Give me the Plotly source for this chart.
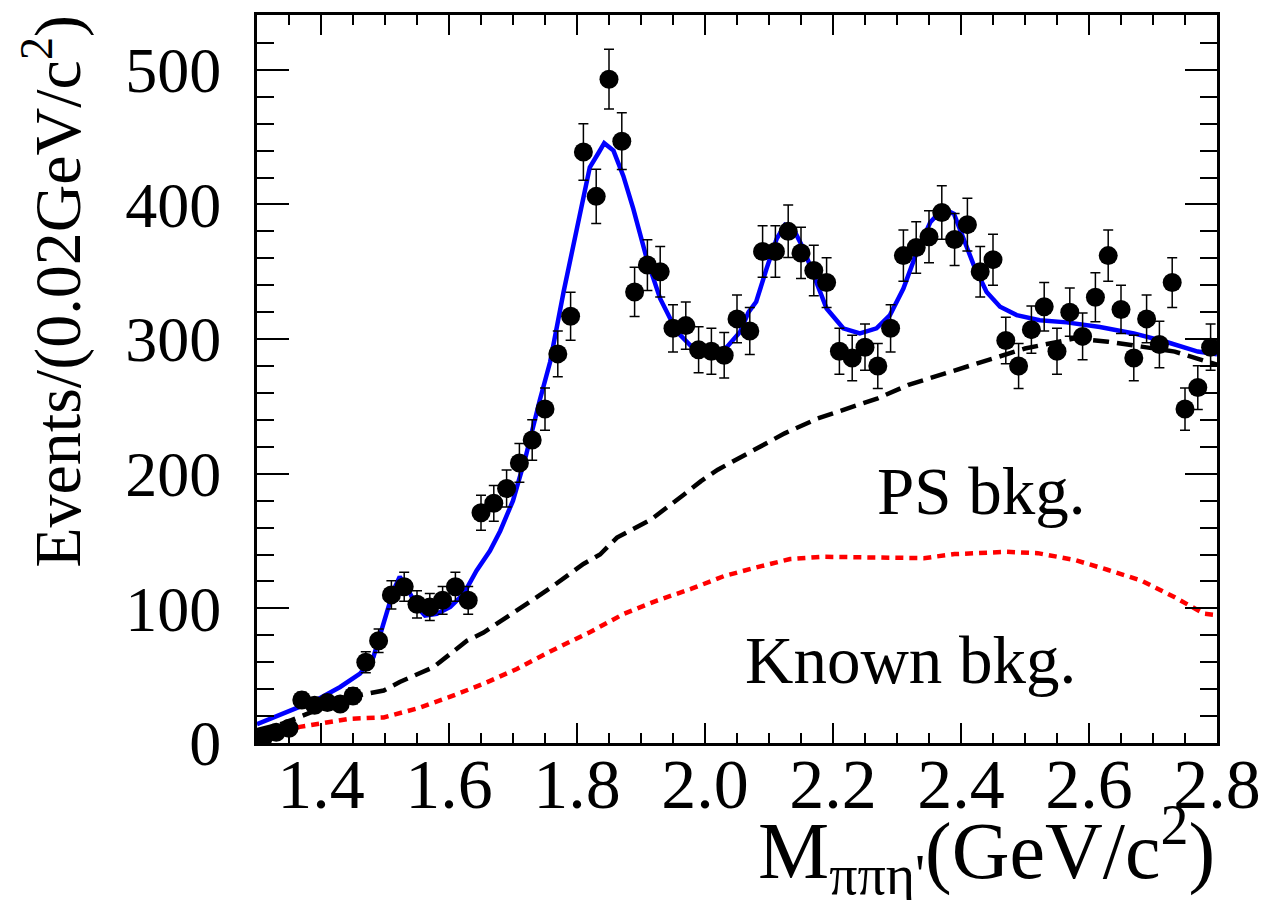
import numpy as np
import plotly.graph_objects as go

# ---------------- data ----------------
bin_centers = [1.31, 1.33, 1.35, 1.37, 1.39, 1.41, 1.43, 1.45, 1.47, 1.49,
               1.51, 1.53, 1.55, 1.57, 1.59, 1.61, 1.63, 1.65, 1.67, 1.69,
               1.71, 1.73, 1.75, 1.77, 1.79, 1.81, 1.83, 1.85, 1.87, 1.89,
               1.91, 1.93, 1.95, 1.97, 1.99, 2.01, 2.03, 2.05, 2.07, 2.09,
               2.11, 2.13, 2.15, 2.17, 2.19, 2.21, 2.23, 2.25, 2.27, 2.29,
               2.31, 2.33, 2.35, 2.37, 2.39, 2.41, 2.43, 2.45, 2.47, 2.49,
               2.51, 2.53, 2.55, 2.57, 2.59, 2.61, 2.63, 2.65, 2.67, 2.69,
               2.71, 2.73, 2.75, 2.77, 2.79]
counts = [4, 8, 11, 32, 28, 30, 29, 35, 60, 76,
          110, 116, 103, 101, 106, 116, 106, 171, 178, 189,
          208, 225, 248, 289, 317, 439, 406, 493, 447, 335,
          355, 350, 308, 310, 292, 291, 288, 315, 306, 365,
          365, 380, 364, 351, 342, 291, 286, 294, 280, 308,
          362, 368, 376, 394, 374, 385, 350, 359, 299, 280,
          307, 324, 291, 320, 302, 331, 362, 322, 286, 315,
          296, 342, 248, 264, 294]

fit_x = [1.30, 1.32, 1.35, 1.393, 1.43, 1.461, 1.482, 1.498, 1.513, 1.523,
         1.536, 1.55, 1.5625, 1.581, 1.602, 1.623, 1.643, 1.664, 1.68, 1.70,
         1.72, 1.742, 1.758, 1.779, 1.80, 1.82, 1.834, 1.8425, 1.857, 1.8725,
         1.888, 1.909, 1.93, 1.956, 1.982, 2.008, 2.034, 2.055, 2.068, 2.08,
         2.096, 2.112, 2.125, 2.138, 2.154, 2.17, 2.19, 2.216, 2.242, 2.268,
         2.289, 2.31, 2.331, 2.352, 2.372, 2.389, 2.404, 2.42, 2.44, 2.461,
         2.487, 2.523, 2.565, 2.617, 2.67, 2.72, 2.77, 2.80]
fit_y = [14, 18, 24, 32, 41.6, 51.5, 64, 88.5, 113, 123.5,
         114, 101, 94.7, 96, 101, 110.7, 128, 142.7, 157.5, 180,
         213, 255, 283, 335, 384, 427.5, 438.6, 445.5, 440, 421,
         396.7, 359.7, 330, 305.5, 293, 289.4, 294, 305.5, 320, 327.7,
         352, 374.5, 384.8, 382, 367, 347.4, 322.7, 308, 304.2, 308,
         317.8, 337.5, 364.6, 386.8, 397, 393, 374.5, 354.8, 335, 324,
         317.8, 314, 312.4, 309, 304.2, 298, 290.7, 288.7]

ps_x = [1.30, 1.341, 1.393, 1.445, 1.498, 1.523, 1.576, 1.60, 1.628, 1.654,
        1.706, 1.758, 1.81, 1.836, 1.8625, 1.9156, 1.9677, 1.9937, 2.02, 2.072,
        2.1245, 2.176, 2.228, 2.27, 2.318, 2.385, 2.448, 2.50, 2.578, 2.63,
        2.682, 2.734, 2.786, 2.80]
ps_y = [9.6, 14.6, 24.4, 34.2, 39, 45.3, 56.4, 65, 76, 82,
        98.4, 115, 133, 140, 152.6, 166, 184.7, 194.5, 203, 216.7,
        230, 241, 249, 256, 266, 276, 285.7, 293, 300.5, 298,
        294.4, 290.7, 283, 281]

known_x = [1.30, 1.367, 1.445, 1.498, 1.55, 1.60, 1.654, 1.706, 1.758, 1.82,
           1.873, 1.925, 1.978, 2.03, 2.08, 2.133, 2.185, 2.263, 2.342, 2.39,
           2.47, 2.52, 2.578, 2.63, 2.682, 2.734, 2.78, 2.80]
known_y = [3, 12, 18, 19, 25.6, 34, 44, 55, 68, 82.3,
           95.9, 105.8, 114.4, 124, 130.4, 136.6, 138.3, 137.8, 137.3, 140.3,
           142, 141, 135.9, 128.5, 120.6, 108.2, 96, 95]

x_ticks = [1.4, 1.6, 1.8, 2.0, 2.2, 2.4, 2.6, 2.8]
x_ticklabels = ["1.4", "1.6", "1.8", "2.0", "2.2", "2.4", "2.6", "2.8"]
y_ticks = [0, 100, 200, 300, 400, 500]
y_ticklabels = ["0", "100", "200", "300", "400", "500"]

FONT = "Liberation Serif"

fig = go.Figure()

fig.add_trace(go.Scatter(
    x=known_x, y=known_y, mode="lines",
    line=dict(color="#ff0000", width=4.5, dash="8px,6px"),
    showlegend=False, hoverinfo="skip"))
fig.add_trace(go.Scatter(
    x=ps_x, y=ps_y, mode="lines",
    line=dict(color="black", width=4.5, dash="16px,8px"),
    showlegend=False, hoverinfo="skip"))
fig.add_trace(go.Scatter(
    x=fit_x, y=fit_y, mode="lines",
    line=dict(color="#0000ff", width=4.5),
    showlegend=False, hoverinfo="skip"))
fig.add_trace(go.Scatter(
    x=bin_centers, y=counts, mode="markers",
    marker=dict(color="black", size=19, symbol="circle"),
    error_y=dict(type="data", array=list(np.sqrt(np.array(counts, dtype=float))),
                 color="black", thickness=1.5, width=5),
    showlegend=False))

fig.add_annotation(x=2.2656, y=187, xref="x", yref="y", text="PS bkg.",
                   showarrow=False, xanchor="left", yanchor="middle",
                   font=dict(family=FONT, size=67, color="black"))
fig.add_annotation(x=2.0594, y=61.4, xref="x", yref="y", text="Known bkg.",
                   showarrow=False, xanchor="left", yanchor="middle",
                   font=dict(family=FONT, size=67, color="black"))

fig.add_annotation(x=1.0, y=-0.147, xref="paper", yref="paper",
                   text="M<sub>ππη'</sub>(GeV/c<sup>2</sup>)",
                   showarrow=False, xanchor="right", yanchor="middle",
                   font=dict(family=FONT, size=80, color="black"))
fig.add_annotation(x=-0.212, y=1.003, xref="paper", yref="paper",
                   text="Events/(0.02GeV/c<sup>2</sup>)", textangle=-90,
                   showarrow=False, xanchor="center", yanchor="top",
                   font=dict(family=FONT, size=66, color="black"))

fig.update_xaxes(
    range=[1.3, 2.8], tickvals=x_ticks, ticktext=x_ticklabels,
    ticks="inside", ticklen=20, tickwidth=2, tickcolor="black",
    minor=dict(dtick=0.05, ticks="inside", ticklen=10, tickwidth=2, tickcolor="black"),
    showline=True, linecolor="black", linewidth=3, mirror="allticks",
    showgrid=False, zeroline=False,
    tickfont=dict(family=FONT, size=70, color="black"),
    ticklabelstandoff=-22)
fig.update_yaxes(
    range=[0, 540.7], tickvals=y_ticks, ticktext=y_ticklabels,
    ticks="inside", ticklen=32, tickwidth=2, tickcolor="black",
    minor=dict(dtick=20, ticks="inside", ticklen=17, tickwidth=2, tickcolor="black"),
    showline=True, linecolor="black", linewidth=3, mirror="allticks",
    showgrid=False, zeroline=False,
    tickfont=dict(family=FONT, size=64, color="black"),
    ticklabelstandoff=20)

fig.update_layout(
    width=1266, height=892,
    margin=dict(l=249, r=57, t=4, b=157),
    plot_bgcolor="white", paper_bgcolor="white",
    font=dict(family=FONT, color="black"))

fig.write_html("out.html")
